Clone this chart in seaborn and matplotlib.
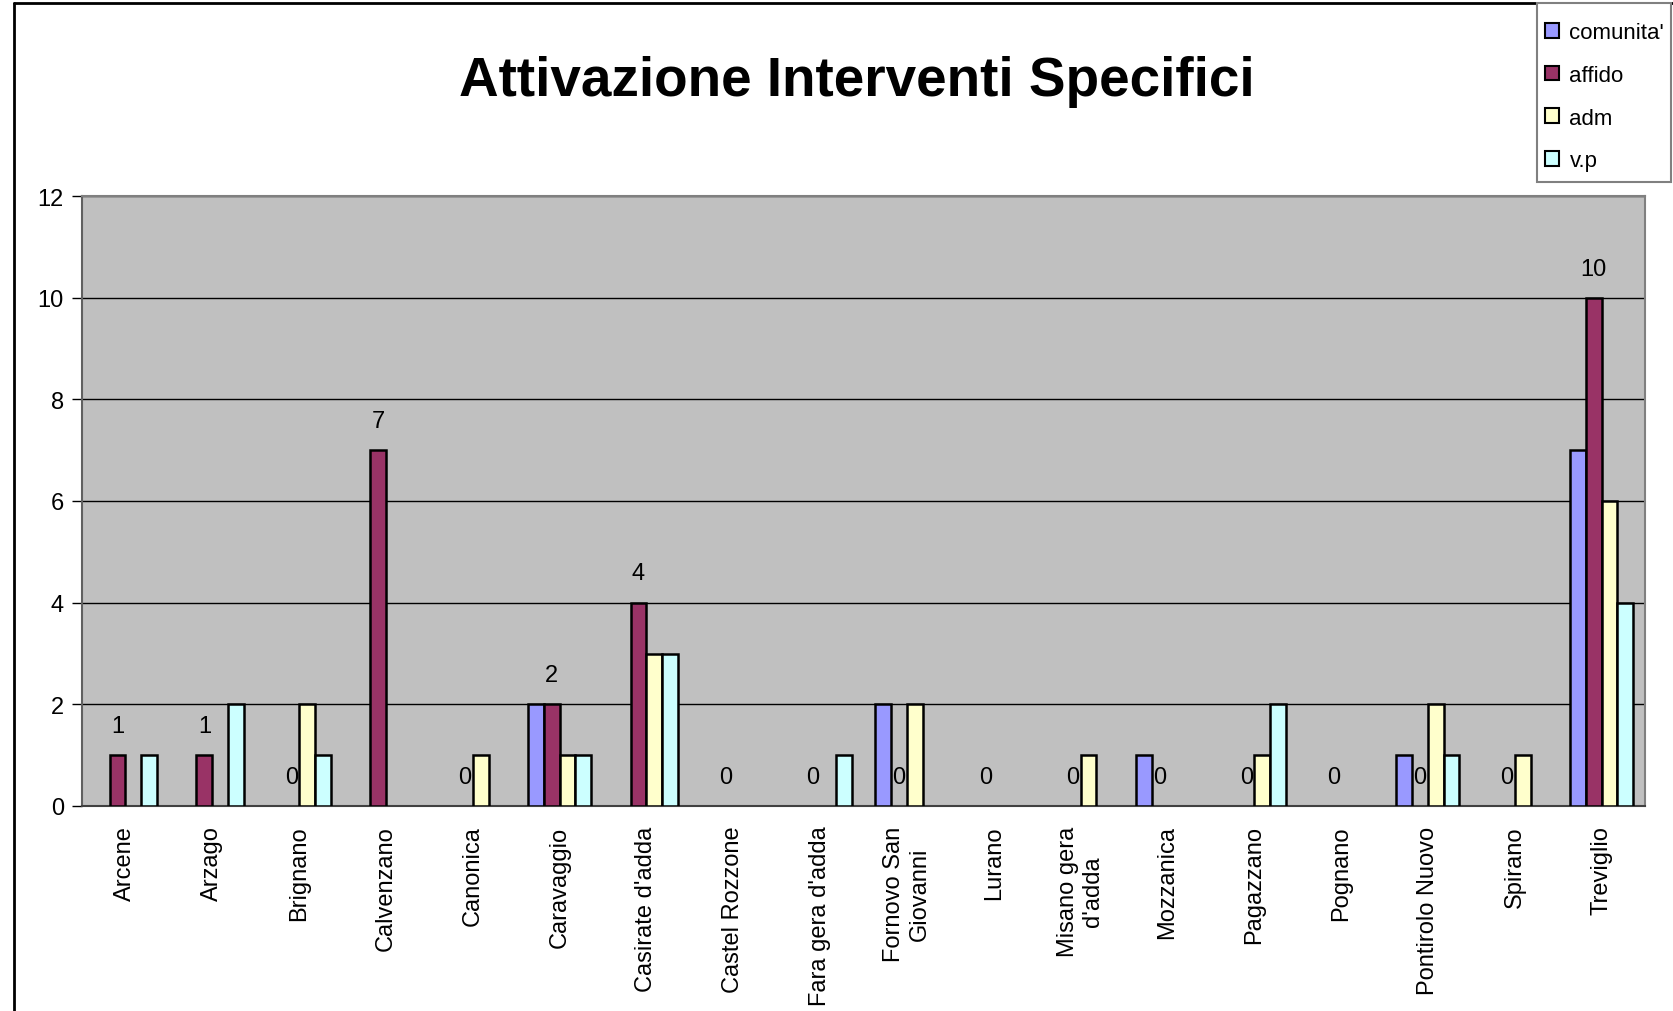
import matplotlib
matplotlib.use('Agg')
import matplotlib.pyplot as plt
from matplotlib.lines import Line2D
from matplotlib.patches import Patch, Rectangle
import pandas as pd
import seaborn as sns

comuni = ['Arcene', 'Arzago', 'Brignano', 'Calvenzano', 'Canonica', 'Caravaggio',
          "Casirate d'adda", 'Castel Rozzone', "Fara gera d'adda",
          'Fornovo San\nGiovanni', 'Lurano', "Misano gera\nd'adda", 'Mozzanica',
          'Pagazzano', 'Pognano', 'Pontirolo Nuovo', 'Spirano', 'Treviglio']
comunita = [0, 0, 0, 0, 0, 2, 0, 0, 0, 2, 0, 0, 1, 0, 0, 1, 0, 7]
affido = [1, 1, 0, 7, 0, 2, 4, 0, 0, 0, 0, 0, 0, 0, 0, 0, 0, 10]
adm = [0, 0, 2, 0, 1, 1, 3, 0, 0, 2, 0, 1, 0, 1, 0, 2, 1, 6]
vp = [1, 2, 1, 0, 0, 1, 3, 0, 1, 0, 0, 0, 0, 2, 0, 1, 0, 4]
serie = ["comunita'", 'affido', 'adm', 'v.p']
colori = ['#9999FF', '#993366', '#FFFFCC', '#CCFFFF']
yticks = [0, 2, 4, 6, 8, 10, 12]

# tabella lunga per seaborn
righe = []
for nome, valori in zip(serie, [comunita, affido, adm, vp]):
    for c, v in zip(comuni, valori):
        righe.append({'comune': c, 'tipo': nome, 'valore': v})
df = pd.DataFrame(righe)

sns.set_style('white')
plt.rcParams['font.family'] = ['Liberation Sans', 'DejaVu Sans']
plt.rcParams['text.color'] = 'black'
plt.rcParams['xtick.color'] = 'black'
plt.rcParams['ytick.color'] = 'black'

W, H = 1673, 1012
fig = plt.figure(figsize=(W / 100, H / 100), dpi=100)
ax = fig.add_axes([82 / W, 1 - 807 / H, (1645 - 82) / W, (807 - 197) / H])
ax.set_facecolor('#C0C0C0')

sns.barplot(data=df, x='comune', y='valore', hue='tipo', hue_order=serie,
            palette=colori, width=4 / 5.5, edgecolor='black', linewidth=1.8,
            saturation=1, ax=ax, legend=False, zorder=3)

# Excel non disegna le barre a zero
for p in ax.patches:
    if p.get_height() == 0:
        p.set_visible(False)

# etichette solo sulla serie affido
barw = (4 / 5.5) / 4
for i, v in enumerate(affido):
    ax.annotate(str(v), (i - barw / 2, v), xytext=(0, 21), textcoords='offset points',
                ha='center', va='center', fontsize=17, color='black')

ax.set_ylim(0, 12)
ax.set_xlim(-0.5, len(comuni) - 0.5)
ax.set_yticks(yticks)
ax.set_yticklabels([str(t) for t in yticks], fontsize=17)
ax.yaxis.grid(True, color='black', linewidth=1, zorder=1)
ax.set_axisbelow(True)
ax.set_xlabel('')
ax.set_ylabel('')

ax.set_xticks(range(len(comuni)))
ax.set_xticklabels(comuni, rotation=90, fontsize=17, ha='center', va='top',
                   multialignment='center')
ax.set_xticks([i - 0.5 for i in range(len(comuni) + 1)], minor=True)
ax.tick_params(axis='x', which='major', length=0, pad=14)
ax.tick_params(axis='x', which='minor', length=7, width=1, color='black', direction='out')
ax.tick_params(axis='y', length=7, width=1, color='black', direction='out', left=True, pad=6)

for s in ['top', 'right']:
    ax.spines[s].set_color('#808080')
    ax.spines[s].set_linewidth(1.5)
ax.spines['left'].set_color('#606060')
ax.spines['bottom'].set_color('#404040')
ax.spines['left'].set_linewidth(1.5)
ax.spines['bottom'].set_linewidth(1.5)

fig.text(857 / W, 1 - 82 / H, 'Attivazione Interventi Specifici',
         ha='center', va='center', fontsize=39.5, fontweight='bold', color='black')

# cornice dell'area del grafico
fig.add_artist(Line2D([14 / W, 14 / W], [0, 1 - 4 / H], color='black', lw=2))
fig.add_artist(Line2D([14 / W, 1], [1 - 4 / H, 1 - 4 / H], color='black', lw=2))

# riquadro legenda disegnato a mano
fig.add_artist(Rectangle((1537 / W, 1 - 183 / H), 134 / W, 179 / H, facecolor='white',
                         edgecolor='#808080', linewidth=1.5, zorder=2))
handles = [Patch(facecolor=c, edgecolor='black', linewidth=1.5) for c in colori]
leg = fig.legend(handles, serie, loc='upper left', bbox_to_anchor=(1545 / W, 1 - 23 / H),
                 frameon=False, fontsize=16, handlelength=0.65,
                 handleheight=0.65, handletextpad=0.45, labelspacing=0.98,
                 borderpad=0, borderaxespad=0)
leg.set_zorder(3)

fig.savefig('out.png', dpi=100)
